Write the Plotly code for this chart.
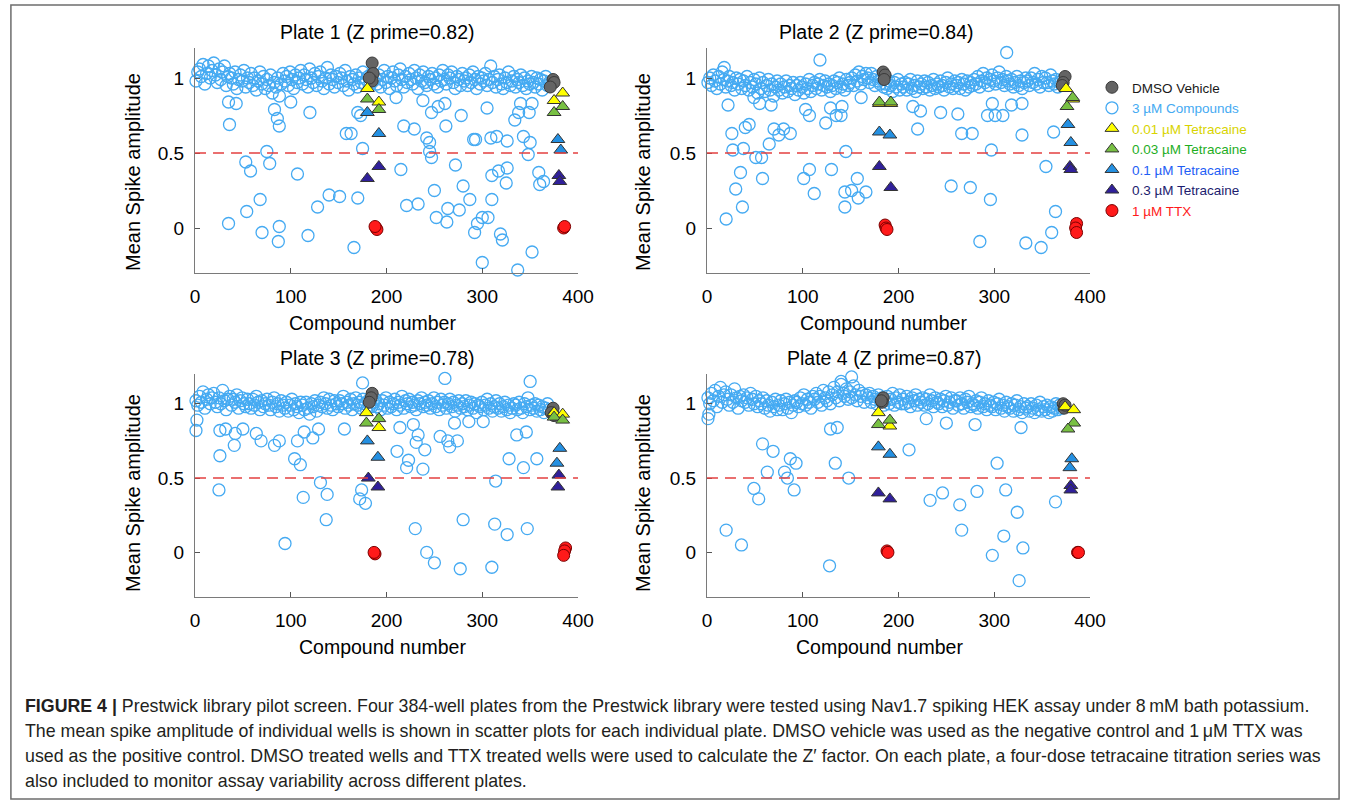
import numpy as np
import plotly.graph_objects as go

# ---------------- DATA ----------------
plate_titles = ["Plate 1 (Z prime=0.82)", "Plate 2 (Z prime=0.84)",
                "Plate 3 (Z prime=0.78)", "Plate 4 (Z prime=0.87)"]
x_ticks = [0, 100, 200, 300, 400]
y_ticks = [0, 0.5, 1]
y_ticktext = ["0", "0.5", "1"]

# dense band of compounds (values in hundredths), compound order left->right
p1_band = [98,104,106,101,109,96,103,108,100,105, 110,102,97,106,99,104,108,95,101,103,
           100,96,104,93,99,102,98,105,94,100, 97,103,95,100,92,98,104,96,101,93,
           99,95,102,90,97,94,100,88,96,103, 98,101,95,104,99,93,102,97,100,105,
           96,102,99,94,106,100,97,103,95,101, 104,98,93,100,107,96,102,99,94,101,
           97,103,100,95,105,98,92,101,99,96, 102,94,100,97,104,96,99,101,95,103,
           98,100,96,102,94,99,105,97,101,93, 100,104,98,95,102,106,99,94,101,97,
           103,99,96,105,100,93,102,98,104,97, 95,101,99,103,96,100,94,102,98,105,
           99,96,102,100,104,97,93,101,99,95, 103,98,100,95,102,97,104,99,93,101,
           96,100,98,103,95,99,108,97,101,94, 99,102,96,93,100,97,104,95,98,101,
           94,99,97,102,95,100,93,98,96,101, 97,94,100,96,99,92,98,101,95,97]
p2_band = [97,100,95,102,98,93,101,96,104,99, 94,98,101,95,97,92,100,96,99,93,
           98,95,101,92,97,94,99,96,90,100, 93,97,91,95,99,92,96,88,94,98,
           92,96,90,94,98,91,95,93,97,89, 95,92,97,94,90,96,93,99,91,95,
           97,93,96,99,92,95,98,94,96,91, 95,98,93,97,100,94,96,92,99,95,
           97,100,95,102,98,104,96,101,99,103, 100,97,103,99,95,101,98,96,100,94,
           96,93,98,95,91,97,94,99,92,96, 94,97,92,96,99,93,95,91,98,94,
           96,93,98,94,97,92,95,99,93,96, 94,98,95,92,97,100,94,96,93,98,
           95,97,93,99,96,92,98,94,97,95, 99,96,101,94,98,103,97,100,95,99,
           102,98,96,100,104,97,99,95,101,98, 96,99,94,97,101,95,98,93,97,100,
           98,95,100,97,103,96,99,94,101,97, 100,97,95,102,98,96,99,94,97,98]
p3_band = [102,99,105,101,108,97,103,106,100,104, 107,101,98,104,100,109,102,96,103,105,
           99,103,101,106,97,102,104,100,98,103, 100,97,103,99,105,101,96,102,98,100,
           103,99,96,101,104,98,100,95,102,99, 97,101,95,99,103,96,100,98,94,101,
           99,96,101,97,93,100,98,102,95,99, 101,98,104,100,97,103,99,96,102,100,
           98,102,100,105,97,101,99,103,96,100, 104,99,101,97,103,100,96,102,99,98,
           101,103,98,100,96,102,99,104,97,101, 98,100,103,96,101,99,105,97,102,100,
           103,98,101,99,96,102,100,104,98,101, 99,102,97,100,104,98,101,96,103,99,
           101,97,100,103,98,101,95,99,102,97, 100,98,102,96,99,101,97,100,94,99,
           98,101,96,99,103,97,100,95,98,102, 97,100,95,98,101,96,99,94,97,100,
           99,96,101,97,94,100,98,104,96,99, 97,100,95,99,96,98,94,97,100,96]
p4_band = [104,100,107,102,109,98,105,111,101,106, 108,103,99,106,101,110,104,97,105,102,
           106,101,104,99,107,103,100,105,98,102, 100,104,97,102,99,95,101,98,103,96,
           99,102,96,100,103,97,101,94,99,102, 101,98,104,100,106,99,103,101,97,105,
           103,107,101,105,99,109,104,102,108,100, 106,111,104,108,102,113,107,105,110,103,
           108,104,112,106,102,109,105,107,101,106, 104,107,101,105,103,100,106,102,104,99,
           102,105,100,103,107,99,104,101,106,100, 103,100,105,101,98,104,102,106,99,103,
           101,104,99,103,100,106,102,98,104,101, 100,103,98,102,105,99,101,104,97,102,
           102,99,104,100,97,103,101,105,98,100, 99,102,97,101,104,98,100,96,102,99,
           98,101,96,100,103,97,99,95,101,98, 97,100,95,99,102,96,98,94,100,97,
           98,95,100,97,94,99,96,101,95,98, 96,99,94,98,95,97,100,96,99,97]

# compounds outside the band (compound number, amplitude)
p1_out_x = [36,53,58,75,78,107,120,35,54,68,70,88,87,118,128,140,151,158,
            35,43,86,88,83,100,170,173,163,175,170,166,215,218,229,210,238,
            242,245,245,247,250,221,233,252,263,264,276,280,287,272,262,247,254,
            261,278,291,293,305,309,315,326,310,317,326,325,310,300,306,295,292,
            319,321,334,338,349,352,343,350,348,359,364,360,340,337,300,352]
p1_out_y = [0.69,0.44,0.38,0.51,0.43,0.36,0.77,0.03,0.11,0.19,-0.03,0.01,-0.09,-0.05,0.14,0.22,0.21,0.63,
            0.84,0.83,0.73,0.68,0.79,0.84,0.77,0.75,0.63,0.53,0.20,-0.13,0.39,0.68,0.66,0.87,0.85,
            0.60,0.57,0.51,0.47,0.25,0.15,0.16,0.07,0.04,0.13,0.12,0.28,0.19,0.42,0.68,0.77,0.81,
            0.83,0.75,0.59,0.59,0.80,0.60,0.61,0.58,0.35,0.38,0.40,0.30,0.19,0.07,0.07,0.03,-0.03,
            -0.04,-0.08,0.72,0.77,0.77,0.83,0.61,0.57,0.49,0.37,0.31,0.29,0.83,-0.28,-0.23,-0.16]
p2_out_x = [22,26,27,38,40,44,35,30,37,20,51,57,58,65,70,75,80,87,49,55,67,
            103,107,101,107,112,124,129,135,141,140,130,145,144,151,144,157,158,118,18,
            161,166,215,223,220,244,262,266,277,255,275,296,297,293,301,309,298,313,
            329,354,362,364,360,285,333,349,329,318]
p2_out_y = [0.82,0.63,0.52,0.53,0.67,0.69,0.37,0.26,0.14,0.06,0.47,0.47,0.33,0.56,0.66,0.62,0.66,0.63,0.87,0.83,0.82,
            0.79,0.75,0.33,0.39,0.23,0.70,0.80,0.75,0.81,0.75,0.39,0.51,0.24,0.25,0.14,0.33,0.20,1.12,1.07,
            0.87,0.24,0.81,0.78,0.66,0.77,0.76,0.63,0.63,0.28,0.27,0.19,0.52,0.75,0.75,0.75,0.83,1.17,
            0.62,0.41,0.64,0.11,-0.03,-0.09,-0.10,-0.13,0.83,0.82]
p3_out_x = [2,1,26,25,26,32,41,42,50,64,69,83,88,94,107,104,110,113,114,123,129,131,138,137,
            174,172,178,156,211,214,223,221,238,228,233,231,240,256,264,266,274,271,286,301,
            230,242,250,277,280,314,313,326,347,310,328,343,357,336,346,261,350,175]
p3_out_y = [0.89,0.82,0.65,0.42,0.82,0.83,0.72,0.80,0.83,0.80,0.75,0.72,0.75,0.06,0.75,0.63,0.59,0.37,0.81,0.77,0.83,0.47,0.39,0.22,
            0.42,0.36,0.33,0.83,0.68,0.84,0.62,0.57,0.56,0.86,0.79,0.74,0.69,0.78,0.75,0.71,0.75,0.87,0.88,0.88,
            0.16,0.00,-0.07,-0.11,0.22,0.48,0.19,0.12,0.16,-0.10,0.63,0.57,0.63,0.79,0.81,1.17,1.15,1.14]
p4_out_x = [2,1,20,36,58,69,63,49,54,81,84,87,93,91,128,129,136,134,148,
            211,233,246,264,266,282,303,312,324,310,330,298,326,364,229,250,280,328,151,140]
p4_out_y = [0.93,0.90,0.15,0.05,0.73,0.68,0.54,0.43,0.36,0.54,0.50,0.63,0.60,0.42,-0.09,0.83,0.84,0.60,0.50,
            0.69,0.35,0.40,0.32,0.15,0.41,0.60,0.42,0.27,0.11,0.03,-0.02,-0.19,0.34,0.90,0.87,0.86,0.84,1.18,1.15]

# controls
dmso_x = [[185,186,185,182,374,375,371], [184,186,185,374,372,371],
          [185,184,182,374,372,375], [184,183,182,372,373,374]]
dmso_y = [[1.10,1.03,0.98,1.00,0.99,0.97,0.94], [1.04,1.02,0.99,1.01,0.97,0.95],
          [1.07,1.04,1.01,0.97,0.94,0.92], [1.04,1.01,1.02,1.00,0.97,0.99]]
tet001_x = [[180,192,375,384], [180,192,375,382], [179,192,375,384], [179,191,374,383]]
tet001_y = [[0.93,0.84,0.85,0.90], [0.83,0.83,0.93,0.86], [0.94,0.84,0.94,0.93], [0.94,0.85,0.98,0.96]]
tet003_x = [[180,192,375,384], [180,192,382,376], [179,192,375,384], [179,191,383,377]]
tet003_y = [[0.86,0.79,0.77,0.81], [0.84,0.84,0.87,0.81], [0.87,0.90,0.91,0.89], [0.86,0.89,0.87,0.83]]
tet01_x = [[180,192,379,382], [180,191,377,380], [180,191,381,378], [179,191,381,379]]
tet01_y = [[0.77,0.63,0.59,0.52], [0.64,0.62,0.69,0.57], [0.75,0.64,0.70,0.60], [0.71,0.66,0.63,0.57]]
tet03_x = [[180,192,380,381], [180,192,379,380], [181,191,380,379], [179,191,380,380]]
tet03_y = [[0.33,0.41,0.35,0.31], [0.41,0.27,0.41,0.39], [0.50,0.44,0.52,0.44], [0.40,0.36,0.45,0.42]]
ttx_x = [[189,190,188,385,386], [186,187,188,386,385,386], [188,187,387,386,385], [188,189,387,388]]
ttx_y = [[0.00,-0.01,0.01,0.00,0.01], [0.02,0.00,-0.01,0.03,0.00,-0.03],
         [-0.01,0.00,0.03,0.01,-0.02], [0.01,0.00,0.00,0.00]]

bands = [p1_band, p2_band, p3_band, p4_band]
outs_x = [p1_out_x, p2_out_x, p3_out_x, p4_out_x]
outs_y = [p1_out_y, p2_out_y, p3_out_y, p4_out_y]

caption_lines = [
    "<b>FIGURE 4 |</b> Prestwick library pilot screen. Four 384-well plates from the Prestwick library were tested using Nav1.7 spiking HEK assay under 8\u2009mM bath potassium.",
    "The mean spike amplitude of individual wells is shown in scatter plots for each individual plate. DMSO vehicle was used as the negative control and 1\u2009\u03bcM TTX was",
    "used as the positive control. DMSO treated wells and TTX treated wells were used to calculate the Z\u2032 factor. On each plate, a four-dose tetracaine titration series was",
    "also included to monitor assay variability across different plates.",
]

# ---------------- STYLE ----------------
W, H = 1360, 804
FONT = "Liberation Sans, Arial, sans-serif"
C_CMP = "#45aaf2"

series_style = [
    # name, legend text colour, symbol, fill, line colour, size
    ("DMSO Vehicle", "#1a1a1a", "circle", "#646464", "#3a3a3a", 12),
    ("0.01 \u00b5M Tetracaine", "#d8d400", "triangle-up", "#ffff00", "#333333", 12),
    ("0.03 \u00b5M Tetracaine", "#1fae1f", "triangle-up", "#78c043", "#333333", 12),
    ("0.1 \u00b5M Tetracaine", "#1e5ef5", "triangle-up", "#2490e2", "#333333", 12),
    ("0.3 \u00b5M Tetracaine", "#1c1c6e", "triangle-up", "#30209a", "#333333", 12),
    ("1 \u00b5M TTX", "#ff1a1a", "circle", "#ff1a1a", "#7a0000", 12),
]
ctrl_x = [dmso_x, tet001_x, tet003_x, tet01_x, tet03_x, ttx_x]
ctrl_y = [dmso_y, tet001_y, tet003_y, tet01_y, tet03_y, ttx_y]

# axis pixel boxes: (left, right, top, bottom)
boxes = [(193, 582, 48, 273), (713, 1102, 48, 273),
         (193, 582, 374, 597), (713, 1102, 374, 597)]

fig = go.Figure()

for i in range(4):
    xa = "x" if i == 0 else f"x{i+1}"
    ya = "y" if i == 0 else f"y{i+1}"
    band = bands[i]
    bx = np.linspace(1, 370, len(band))
    cx = np.concatenate([bx, np.array(outs_x[i], dtype=float)])
    cy = np.concatenate([np.array(band) / 100.0, np.array(outs_y[i])])
    fig.add_trace(go.Scatter(
        x=cx, y=cy, mode="markers", xaxis=xa, yaxis=ya, cliponaxis=False,
        name=f"<span style='color:{C_CMP}'>3 \u00b5M Compounds</span>",
        legendgroup="cmp", showlegend=(i == 0), legendrank=2,
        marker=dict(symbol="circle-open", size=12, color=C_CMP, line=dict(width=1.3, color=C_CMP))))
    for k, (nm, tc, sym, fc, lc, sz) in enumerate(series_style):
        rank = 1 if k == 0 else k + 2
        fig.add_trace(go.Scatter(
            x=ctrl_x[k][i], y=ctrl_y[k][i], mode="markers", xaxis=xa, yaxis=ya, cliponaxis=False,
            name=f"<span style='color:{tc}'>{nm}</span>",
            legendgroup=nm, showlegend=(i == 0), legendrank=rank,
            marker=dict(symbol=sym, size=sz, color=fc, line=dict(width=1, color=lc))))
    fig.add_shape(type="line", xref=xa, yref=ya, x0=0, x1=400, y0=0.5, y1=0.5,
                  line=dict(color="#e34040", width=1.4, dash="11px,7px"))

layout = dict(
    width=W, height=H, margin=dict(l=0, r=0, t=0, b=0),
    paper_bgcolor="white", plot_bgcolor="white",
    font=dict(family=FONT, color="black"),
    showlegend=True,
    legend=dict(x=1104 / W, y=1 - 72 / H, xanchor="left", yanchor="top",
                font=dict(size=13.5, family=FONT), bgcolor="rgba(0,0,0,0)",
                tracegroupgap=0, itemsizing="trace"),
)
for i, (l, r, t, b) in enumerate(boxes):
    sx = "" if i == 0 else str(i + 1)
    layout[f"xaxis{sx}"] = dict(
        domain=[l / W, r / W], anchor=f"y{sx}", range=[0, 400],
        tickvals=x_ticks, ticks="inside", ticklen=5, tickcolor="#555",
        showline=True, linecolor="#7a7a7a", linewidth=1.2, mirror=False,
        showgrid=False, zeroline=False, tickfont=dict(size=19, color="black"),
        ticklabelstandoff=6)
    layout[f"yaxis{sx}"] = dict(
        domain=[1 - b / H, 1 - t / H], anchor=f"x{sx}", range=[-0.3, 1.2],
        tickvals=y_ticks, ticktext=y_ticktext, ticks="inside", ticklen=5, tickcolor="#555",
        showline=True, linecolor="#7a7a7a", linewidth=1.2, mirror=False,
        showgrid=False, zeroline=False, tickfont=dict(size=19, color="black"),
        ticklabelstandoff=6)
fig.update_layout(**layout)

ann = []
title_pos = [(378, 32), (885, 32), (378, 358), (893, 358)]
for (px, py), t in zip(title_pos, plate_titles):
    ann.append(dict(text=t, x=px / W, y=1 - py / H, xref="paper", yref="paper",
                    showarrow=False, xanchor="center", yanchor="middle",
                    font=dict(size=19.5, family=FONT, color="black")))
xt_pos = [(373, 323), (892, 323), (383, 647), (888, 647)]
for px, py in xt_pos:
    ann.append(dict(text="Compound number", x=px / W, y=1 - py / H, xref="paper", yref="paper",
                    showarrow=False, xanchor="center", yanchor="middle",
                    font=dict(size=19.5, family=FONT, color="black")))
yt_pos = [(130, 172), (648, 172), (130, 493), (648, 493)]
for px, py in yt_pos:
    ann.append(dict(text="Mean Spike amplitude", x=px / W, y=1 - py / H, xref="paper", yref="paper",
                    showarrow=False, xanchor="center", yanchor="middle", textangle=-90,
                    font=dict(size=20, family=FONT, color="black")))
for j, line in enumerate(caption_lines):
    ann.append(dict(text=line, x=18 / W, y=1 - (706 + 25 * j) / H, xref="paper", yref="paper",
                    showarrow=False, xanchor="left", yanchor="middle", align="left",
                    font=dict(size=17.8, family=FONT, color="#231f20")))
fig.update_layout(annotations=ann)

fig.add_shape(type="rect", xref="paper", yref="paper",
              x0=6 / W, x1=1355 / W, y0=1 - 799 / H, y1=1 - 5 / H,
              line=dict(color="#6d6d6d", width=1.5), fillcolor="rgba(0,0,0,0)", layer="below")

fig.write_html("out.html")
